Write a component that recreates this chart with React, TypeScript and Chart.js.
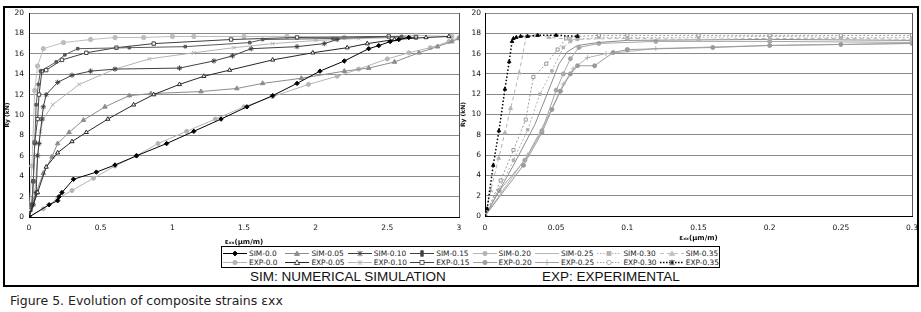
import React, { useEffect, useRef } from "react";
import { Chart, registerables } from "chart.js";
Chart.register(...registerables);

// ---------- tick / axis labels ----------
const leftXTicksMax = 3;
const leftXStep = 0.5;
const rightXTicksMax = 0.3;
const rightXStep = 0.05;
const yMax = 20;
const yStep = 2;
const xAxisTitle = "εₓₓ(μm/m)";
const yAxisTitle = "Ry (kN)";

// ---------- left panel series ----------
const sim00X = [0, 0.14, 0.2, 0.21, 0.23, 0.31, 0.47, 0.6, 0.75, 0.96, 1.15, 1.34, 1.52, 1.7, 1.87, 2.03, 2.2, 2.37, 2.44, 2.52, 2.58, 2.65];
const sim00Y = [0, 1.2, 1.6, 2.0, 2.4, 3.7, 4.4, 5.1, 6.0, 7.2, 8.4, 9.6, 10.8, 11.9, 13.1, 14.3, 15.3, 16.5, 16.8, 17.2, 17.4, 17.6];

const exp00X = [0, 0.1, 0.2, 0.3, 0.45, 0.6, 0.75, 0.9, 1.1, 1.3, 1.5, 1.7, 1.95, 2.15, 2.3, 2.5, 2.65, 2.8, 2.93, 3.0];
const exp00Y = [0, 0.8, 1.8, 2.6, 3.8, 5.0, 6.0, 7.2, 8.4, 9.6, 10.8, 11.8, 13.0, 13.8, 14.5, 15.5, 16.1, 16.6, 17.2, 17.6];

const sim05X = [0, 0.02, 0.05, 0.1, 0.16, 0.2, 0.28, 0.38, 0.53, 0.7, 0.85, 1.2, 1.45, 1.63, 1.9, 2.2, 2.37, 2.55, 2.72, 2.85, 2.95, 3.0];
const sim05Y = [0, 1.2, 2.4, 4.3, 5.9, 7.2, 8.3, 9.5, 10.8, 11.9, 12.1, 12.3, 12.6, 13.1, 13.6, 14.3, 14.6, 15.2, 16.1, 16.7, 17.2, 17.5];

const exp05X = [0, 0.06, 0.12, 0.2, 0.3, 0.4, 0.55, 0.73, 0.87, 1.05, 1.22, 1.4, 1.7, 1.98, 2.22, 2.36, 2.55, 2.77, 2.93];
const exp05Y = [0, 2.4, 4.9, 6.3, 7.4, 8.3, 9.6, 11.0, 12.0, 13.0, 13.8, 14.4, 15.4, 16.1, 16.6, 17.0, 17.4, 17.6, 17.7];

const sim10X = [0, 0.03, 0.05, 0.06, 0.07, 0.09, 0.1, 0.12, 0.2, 0.3, 0.43, 0.6, 1.05, 1.29, 1.42, 1.55, 1.87, 2.06, 2.15];
const sim10Y = [0, 1.2, 2.4, 6.0, 7.2, 9.6, 10.8, 12.0, 13.2, 13.9, 14.3, 14.5, 14.6, 15.3, 15.8, 16.5, 16.7, 17.0, 17.4];

const exp10X = [0, 0.04, 0.06, 0.08, 0.1, 0.165, 0.35, 0.6, 0.84, 1.15, 1.43, 1.7, 2.0, 2.3, 2.6];
const exp10Y = [0, 2.4, 6.0, 8.4, 9.6, 11.0, 13.0, 14.5, 15.5, 16.1, 16.6, 17.0, 17.3, 17.5, 17.6];

const sim15X = [0, 0.02, 0.03, 0.04, 0.05, 0.065, 0.08, 0.19, 0.25, 0.34, 0.7, 1.09, 1.54, 1.63, 2.12, 2.6];
const sim15Y = [0, 1.2, 3.5, 7.2, 11.0, 13.0, 14.3, 15.2, 15.9, 16.5, 16.6, 16.7, 17.1, 17.4, 17.5, 17.7];

const exp15X = [0, 0.01, 0.02, 0.03, 0.04, 0.06, 0.07, 0.09, 0.12, 0.23, 0.4, 0.61, 0.87, 1.41, 1.87, 2.51, 2.7];
const exp15Y = [0, 0.7, 1.2, 3.5, 7.3, 9.6, 12.0, 14.3, 14.4, 15.4, 16.1, 16.6, 17.0, 17.4, 17.6, 17.7, 17.6];

const sim20X = [0, 0.02, 0.04, 0.06, 0.1, 0.24, 0.43, 0.6, 0.8, 1.0, 1.15, 1.5, 1.8, 2.2, 2.7, 2.95];
const sim20Y = [0, 5.0, 12.4, 14.8, 16.5, 17.1, 17.4, 17.6, 17.6, 17.7, 17.7, 17.7, 17.7, 17.6, 17.8, 17.7];

// ---------- right panel series ----------
const exp35X = [0, 0.0015, 0.0058, 0.0098, 0.014, 0.017, 0.019, 0.02, 0.022, 0.025, 0.03, 0.037, 0.05, 0.065];
const exp35Y = [0, 0.7, 5.0, 8.4, 12.5, 15.2, 17.2, 17.5, 17.6, 17.7, 17.7, 17.8, 17.8, 17.7];

const sim35X = [0, 0.004, 0.0096, 0.014, 0.018, 0.024, 0.029, 0.035, 0.045, 0.06, 0.1, 0.15, 0.2, 0.25, 0.3];
const sim35Y = [0, 2.5, 5.7, 8.2, 10.6, 14.1, 17.7, 17.8, 17.6, 17.4, 17.5, 17.4, 17.5, 17.5, 17.4];

const exp30X = [0, 0.011, 0.02, 0.0286, 0.034, 0.043, 0.051, 0.057, 0.065, 0.08, 0.1, 0.15, 0.2, 0.25, 0.3];
const exp30Y = [0, 3.5, 6.5, 9.5, 13.7, 15.0, 16.4, 17.5, 17.7, 17.8, 17.8, 17.8, 17.8, 17.8, 17.8];

const sim30X = [0, 0.02, 0.03, 0.0386, 0.047, 0.055, 0.06, 0.065, 0.08, 0.1, 0.15, 0.2, 0.25, 0.3];
const sim30Y = [0, 5.5, 8.5, 12.0, 14.3, 16.6, 17.2, 17.4, 17.6, 17.6, 17.6, 17.7, 17.6, 17.6];

const sim25X = [0, 0.02, 0.035, 0.045, 0.052, 0.058, 0.065, 0.08, 0.1, 0.2, 0.3];
const sim25Y = [0, 5.0, 9.0, 12.5, 15.0, 16.2, 16.8, 17.1, 17.3, 17.4, 17.3];

const exp20X = [0, 0.01, 0.028, 0.04, 0.05, 0.055, 0.06, 0.066, 0.08, 0.12, 0.2, 0.3];
const exp20Y = [0, 2.5, 5.5, 8.4, 12.4, 14.0, 15.5, 16.6, 17.0, 17.2, 17.2, 17.1];

const expB20X = [0, 0.027, 0.04, 0.047, 0.053, 0.06, 0.065, 0.077, 0.09, 0.1, 0.16, 0.2, 0.25, 0.3];
const expB20Y = [0, 5.0, 8.2, 10.5, 12.3, 14.0, 14.8, 14.8, 16.1, 16.4, 16.6, 16.8, 16.9, 17.0];

const exp25X = [0, 0.03, 0.045, 0.055, 0.062, 0.072, 0.085, 0.1, 0.12, 0.2, 0.25, 0.3];
const exp25Y = [0, 6.0, 10.0, 13.0, 14.5, 15.6, 16.0, 16.2, 16.5, 16.8, 16.9, 17.0];

// ---------- legend labels ----------
const legendLabels = [
  "SIM-0.0", "SIM-0.05", "SIM-0.10", "SIM-0.15", "SIM-0.20", "SIM-0.25", "SIM-0.30", "SIM-0.35",
  "EXP-0.0", "EXP-0.05", "EXP-0.10", "EXP-0.15", "EXP-0.20", "EXP-0.25", "EXP-0.30", "EXP-0.35",
];

type Style = { color: string; fill?: string; shape: string; radius: number; dash?: number[]; width?: number };

const pts = (xs: number[], ys: number[]) => xs.map((x, i) => ({ x, y: ys[i] }));

function ds(label: string, xs: number[], ys: number[], st: Style) {
  const none = st.shape === "none";
  return {
    label,
    data: pts(xs, ys),
    showLine: true,
    borderColor: st.color,
    borderWidth: st.width ?? 1,
    borderDash: st.dash ?? [],
    pointStyle: none ? false : st.shape,
    pointRadius: none ? 0 : st.radius,
    pointBackgroundColor: st.fill ?? st.color,
    pointBorderColor: st.color,
    pointBorderWidth: 1,
    pointHoverRadius: 0,
    tension: 0,
    fill: false,
  };
}

const leftDatasets = () => [
  ds("SIM-0.0", sim00X, sim00Y, { color: "#000", shape: "rectRot", radius: 2.2 }),
  ds("EXP-0.05", exp05X, exp05Y, { color: "#262626", fill: "#fff", shape: "triangle", radius: 2.4 }),
  ds("SIM-0.10", sim10X, sim10Y, { color: "#404040", shape: "star", radius: 2.6 }),
  ds("SIM-0.15", sim15X, sim15Y, { color: "#595959", shape: "rect", radius: 1.8 }),
  ds("EXP-0.15", exp15X, exp15Y, { color: "#404040", fill: "#fff", shape: "rect", radius: 2.4 }),
  ds("SIM-0.05", sim05X, sim05Y, { color: "#8c8c8c", shape: "triangle", radius: 2.6 }),
  ds("EXP-0.10", exp10X, exp10Y, { color: "#b4b4b4", shape: "crossRot", radius: 2.6 }),
  ds("EXP-0.0", exp00X, exp00Y, { color: "#b4b4b4", shape: "circle", radius: 2 }),
  ds("SIM-0.20", sim20X, sim20Y, { color: "#bdbdbd", shape: "circle", radius: 2.2 }),
];

const rightDatasets = () => [
  ds("EXP-0.35", exp35X, exp35Y, { color: "#000", shape: "triangle", radius: 2, dash: [1.5, 2], width: 1.5 }),
  ds("SIM-0.35", sim35X, sim35Y, { color: "#b4b4b4", shape: "triangle", radius: 2.2, dash: [4, 3] }),
  ds("EXP-0.30", exp30X, exp30Y, { color: "#9a9a9a", fill: "#fff", shape: "rect", radius: 2.2, dash: [2, 2] }),
  ds("SIM-0.30", sim30X, sim30Y, { color: "#b0b0b0", shape: "rect", radius: 1.8, dash: [2, 2] }),
  ds("SIM-0.25", sim25X, sim25Y, { color: "#8c8c8c", shape: "none", radius: 0 }),
  ds("EXP-0.20", exp20X, exp20Y, { color: "#a6a6a6", shape: "circle", radius: 2 }),
  ds("EXP-0.20b", expB20X, expB20Y, { color: "#9a9a9a", shape: "circle", radius: 2 }),
  ds("EXP-0.25", exp25X, exp25Y, { color: "#b4b4b4", shape: "cross", radius: 2.5 }),
];

const rightBorder = {
  id: "rightBorder",
  beforeDatasetsDraw(chart: any) {
    const { ctx, chartArea: a } = chart;
    ctx.save();
    ctx.strokeStyle = "#555";
    ctx.lineWidth = 1;
    ctx.beginPath();
    ctx.moveTo(Math.round(a.right) + 0.5, a.top);
    ctx.lineTo(Math.round(a.right) + 0.5, a.bottom);
    ctx.stroke();
    ctx.restore();
  },
};

const fmt = (v: number) => String(Math.round(v * 1000) / 1000);

function buildOptions(p: {
  xMax: number; xStep: number; yW: number; xH: number;
  yTitlePad: number; xTitlePad: number; yTickPad: number; xTickPad: number;
}) {
  const tickFont = { family: "'DejaVu Sans', sans-serif", size: 7.5 };
  return {
    responsive: false,
    maintainAspectRatio: false,
    animation: false,
    events: [],
    layout: { padding: { top: 5, right: 5, left: 0, bottom: 0 } },
    plugins: { legend: { display: false }, tooltip: { enabled: false } },
    scales: {
      x: {
        type: "linear",
        min: 0,
        max: p.xMax,
        ticks: { stepSize: p.xStep, padding: p.xTickPad, color: "#111", font: tickFont, maxRotation: 0, autoSkip: false, callback: (v: number) => fmt(v) },
        grid: { display: false, drawTicks: false },
        border: { display: true, color: "#000", width: 1 },
        title: { display: true, text: xAxisTitle, color: "#111", font: { family: "'DejaVu Sans', sans-serif", size: 7, weight: "bold" }, padding: { top: 0, bottom: p.xTitlePad } },
        afterFit: (s: any) => { s.height = p.xH; s.paddingLeft = 0; s.paddingRight = 0; },
      },
      y: {
        type: "linear",
        min: 0,
        max: yMax,
        ticks: { stepSize: yStep, padding: p.yTickPad, color: "#111", font: tickFont, callback: (v: number) => fmt(v) },
        grid: { color: "#8a8a8a", lineWidth: 1, drawTicks: false },
        border: { display: true, color: "#000", width: 1 },
        title: { display: true, text: yAxisTitle, color: "#111", font: { family: "'DejaVu Sans', sans-serif", size: 6, weight: "bold" }, padding: { top: p.yTitlePad, bottom: 0 } },
        afterFit: (s: any) => { s.width = p.yW; s.paddingTop = 0; s.paddingBottom = 0; },
      },
    },
  };
}

// legend glyph styles (presentation only)
const legendStyles: { color: string; dash?: string; shape: string; fill?: string; width?: number }[] = [
  { color: "#000", shape: "diamond", fill: "#000" },
  { color: "#8c8c8c", shape: "triangle", fill: "#8c8c8c" },
  { color: "#404040", shape: "star" },
  { color: "#404040", shape: "bar", fill: "#404040" },
  { color: "#b4b4b4", shape: "circle", fill: "#b4b4b4" },
  { color: "#b4b4b4", shape: "none" },
  { color: "#b4b4b4", dash: "1.5 1.5", shape: "rect", fill: "#b4b4b4" },
  { color: "#c0c0c0", dash: "4 3", shape: "triangle", fill: "#c0c0c0" },
  { color: "#b4b4b4", shape: "circle", fill: "#b4b4b4" },
  { color: "#262626", shape: "triangle", fill: "#fff" },
  { color: "#b4b4b4", shape: "cross" },
  { color: "#404040", shape: "rect", fill: "#fff" },
  { color: "#a0a0a0", shape: "circle", fill: "#a0a0a0" },
  { color: "#a0a0a0", shape: "vbar" },
  { color: "#a0a0a0", dash: "1.5 1.5", shape: "circle", fill: "#fff" },
  { color: "#000", dash: "1.5 1.5", shape: "star", width: 1.5 },
];

function Glyph({ st }: { st: (typeof legendStyles)[number] }) {
  const cx = 12, cy = 4.5;
  let m: React.ReactNode = null;
  const f = st.fill ?? "none";
  switch (st.shape) {
    case "diamond":
      m = <polygon points={`${cx},${cy - 2.5} ${cx + 2.5},${cy} ${cx},${cy + 2.5} ${cx - 2.5},${cy}`} fill={f} stroke={st.color} strokeWidth={0.8} />;
      break;
    case "triangle":
      m = <polygon points={`${cx},${cy - 2.6} ${cx + 2.6},${cy + 2} ${cx - 2.6},${cy + 2}`} fill={f} stroke={st.color} strokeWidth={0.8} />;
      break;
    case "rect":
      m = <rect x={cx - 2} y={cy - 2} width={4} height={4} fill={f} stroke={st.color} strokeWidth={0.8} />;
      break;
    case "bar":
      m = <rect x={cx - 1.3} y={cy - 2.8} width={2.6} height={5.6} fill={f} stroke={st.color} strokeWidth={0.6} />;
      break;
    case "circle":
      m = <circle cx={cx} cy={cy} r={2.2} fill={f} stroke={st.color} strokeWidth={0.8} />;
      break;
    case "vbar":
      m = <line x1={cx} y1={cy - 3} x2={cx} y2={cy + 3} stroke={st.color} strokeWidth={0.8} />;
      break;
    case "cross":
      m = (
        <g stroke={st.color} strokeWidth={0.8}>
          <line x1={cx - 2.4} y1={cy - 2.4} x2={cx + 2.4} y2={cy + 2.4} />
          <line x1={cx - 2.4} y1={cy + 2.4} x2={cx + 2.4} y2={cy - 2.4} />
          <line x1={cx} y1={cy - 2.6} x2={cx} y2={cy + 2.6} />
        </g>
      );
      break;
    case "star":
      m = (
        <g stroke={st.color} strokeWidth={0.9}>
          <line x1={cx - 2.4} y1={cy - 2.4} x2={cx + 2.4} y2={cy + 2.4} />
          <line x1={cx - 2.4} y1={cy + 2.4} x2={cx + 2.4} y2={cy - 2.4} />
          <line x1={cx} y1={cy - 2.8} x2={cx} y2={cy + 2.8} />
        </g>
      );
      break;
  }
  return (
    <svg width={24} height={9} style={{ position: "absolute", left: 0, top: 0 }}>
      <line x1={0} y1={cy} x2={24} y2={cy} stroke={st.color} strokeWidth={st.width ?? 1} strokeDasharray={st.dash} />
      {m}
    </svg>
  );
}

export default function App() {
  const leftRef = useRef<HTMLCanvasElement>(null);
  const rightRef = useRef<HTMLCanvasElement>(null);

  useEffect(() => {
    const c1 = new Chart(leftRef.current as HTMLCanvasElement, {
      type: "scatter",
      data: { datasets: leftDatasets() as any },
      options: buildOptions({ xMax: leftXTicksMax, xStep: leftXStep, yW: 25, xH: 35, yTitlePad: 0, xTitlePad: 6, yTickPad: 5, xTickPad: 6.5 }) as any,
      plugins: [rightBorder],
    });
    const c2 = new Chart(rightRef.current as HTMLCanvasElement, {
      type: "scatter",
      data: { datasets: rightDatasets() as any },
      options: buildOptions({ xMax: rightXTicksMax, xStep: rightXStep, yW: 27, xH: 36, yTitlePad: 2, xTitlePad: 10, yTickPad: 4, xTickPad: 7.5 }) as any,
      plugins: [rightBorder],
    });
    return () => {
      c1.destroy();
      c2.destroy();
    };
  }, []);

  const colW = 62.4;
  return (
    <div style={{ position: "absolute", left: 0, top: 0, width: 921, height: 312, background: "#fff", overflow: "hidden" }}>
      <div style={{ position: "absolute", left: 3, top: 6, width: 916, height: 281, border: "2px solid #000", boxSizing: "border-box" }} />
      <canvas ref={leftRef} width={460} height={244} style={{ position: "absolute", left: 4, top: 8, width: 460, height: 244 }} />
      <canvas ref={rightRef} width={459} height={244} style={{ position: "absolute", left: 458, top: 8, width: 459, height: 244 }} />

      <div style={{ position: "absolute", left: 221, top: 246, width: 499, height: 22, border: "1px solid #000", boxSizing: "border-box", background: "#fff" }}>
        {legendLabels.map((lab, i) => {
          const row = Math.floor(i / 8);
          const col = i % 8;
          return (
            <div key={lab} style={{ position: "absolute", left: 1 + col * colW, top: 2 + row * 9, width: colW, height: 9 }}>
              <Glyph st={legendStyles[i]} />
              <span style={{ position: "absolute", left: 26, top: 0, lineHeight: "9px", fontSize: 7.4, fontFamily: "'DejaVu Sans', sans-serif", color: "#222", whiteSpace: "nowrap" }}>{lab}</span>
            </div>
          );
        })}
      </div>

      <div style={{ position: "absolute", left: 250, top: 269, lineHeight: "16px", fontSize: 13.5, fontFamily: "'Liberation Sans', Arial, sans-serif", color: "#111", whiteSpace: "nowrap" }}>
        SIM: NUMERICAL SIMULATION
      </div>
      <div style={{ position: "absolute", left: 542, top: 269, lineHeight: "16px", fontSize: 13.5, fontFamily: "'Liberation Sans', Arial, sans-serif", color: "#111", whiteSpace: "nowrap" }}>
        EXP: EXPERIMENTAL
      </div>
      <div style={{ position: "absolute", left: 10, top: 293, lineHeight: "16px", fontSize: 12.5, fontFamily: "'DejaVu Sans', sans-serif", color: "#222", whiteSpace: "nowrap" }}>
        Figure 5. Evolution of composite strains εxx
      </div>
    </div>
  );
}
